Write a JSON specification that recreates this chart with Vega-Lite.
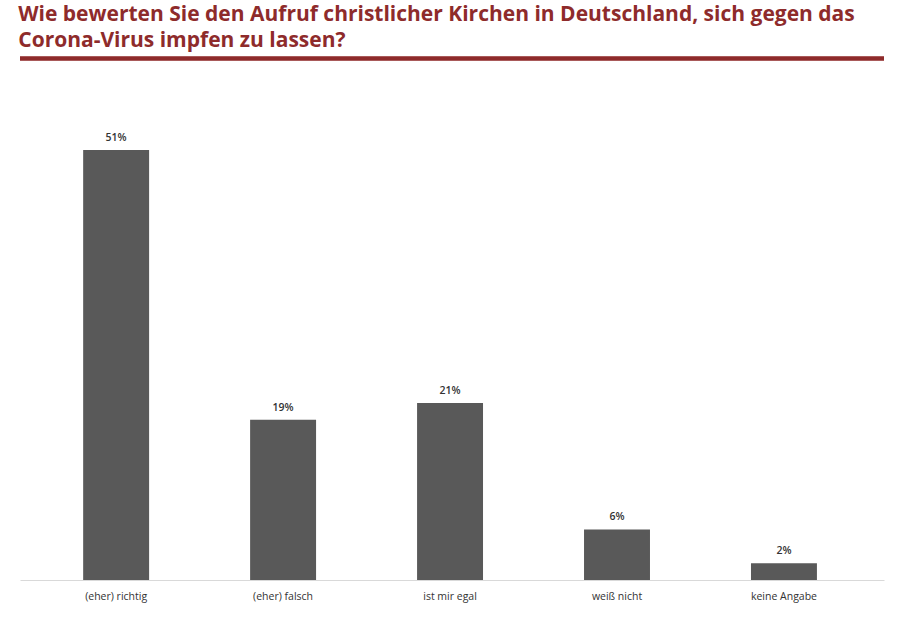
{
  "$schema": "https://vega.github.io/schema/vega-lite/v6.json",
  "autosize": "none",
  "width": 864,
  "height": 521.5,
  "padding": {"left": 20, "top": 58.5, "right": 16, "bottom": 39},
  "background": "white",
  "title": {
    "text": ["Wie bewerten Sie den Aufruf christlicher Kirchen in Deutschland, sich gegen das", "Corona-Virus impfen zu lassen?"],
    "anchor": "start",
    "font": "Open Sans",
    "fontSize": 21,
    "fontWeight": "bold",
    "color": "#8E2B2B",
    "lineHeight": 26,
    "offset": 6
  },
  "data": {
    "values": [
      {"antwort": "(eher) richtig", "anteil": 0.51},
      {"antwort": "(eher) falsch", "anteil": 0.19},
      {"antwort": "ist mir egal", "anteil": 0.21},
      {"antwort": "weiß nicht", "anteil": 0.06},
      {"antwort": "keine Angabe", "anteil": 0.02}
    ]
  },
  "encoding": {
    "x": {
      "field": "antwort",
      "type": "nominal",
      "sort": null,
      "scale": {"paddingInner": 0.605, "paddingOuter": 0.39, "align": 0.485},
      "axis": {
        "title": null,
        "labelAngle": 0,
        "labelFont": "Open Sans",
        "labelFontSize": 10.5,
        "labelColor": "#333333",
        "labelPadding": 11,
        "ticks": false,
        "domainColor": "#d9d9d9",
        "domainWidth": 1
      }
    }
  },
  "layer": [
    {
      "mark": {"type": "bar", "color": "#595959"},
      "encoding": {
        "y": {
          "field": "anteil",
          "type": "quantitative",
          "scale": {"domain": [0, 0.6185], "nice": false},
          "axis": null
        }
      }
    },
    {
      "mark": {"type": "text", "baseline": "bottom", "dy": -7, "font": "Open Sans", "fontSize": 10.5, "fontWeight": 600, "color": "#333333"},
      "encoding": {
        "y": {"field": "anteil", "type": "quantitative"},
        "text": {"field": "anteil", "type": "quantitative", "format": ".0%"}
      }
    },
    {
      "mark": {"type": "rule", "color": "#8E2B2B", "strokeWidth": 3.5, "clip": false},
      "encoding": {
        "y": {"datum": 0.6185, "type": "quantitative"},
        "x": null
      }
    }
  ],
  "config": {
    "view": {"stroke": null},
    "axis": {"grid": false}
  }
}
